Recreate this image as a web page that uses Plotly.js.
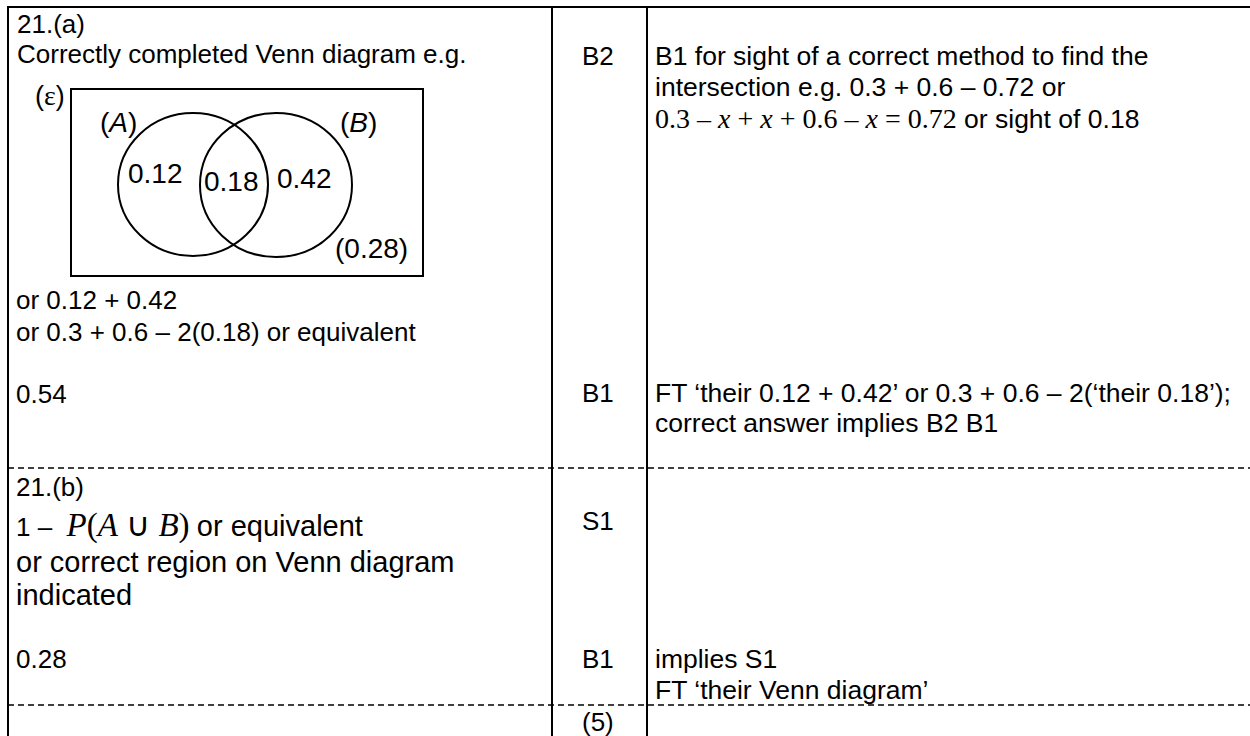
<!DOCTYPE html>
<html>
<head>
<meta charset="utf-8">
<script src="https://cdn.plot.ly/plotly-3.0.1.min.js"></script>
<style>html,body{margin:0;padding:0;background:#fff}</style>
</head>
<body>
<div id="chart" style="width:1250px;height:736px"></div>
<script>
var parts = ['21.(a)', '21.(b)'];
var setNames = ['A', 'B'];
var vennVals = ['0.12', '0.18', '0.42', '0.28']; // A only, A and B, B only, neither
var given = ['0.3', '0.6', '0.72'];               // P(A), P(B), P(A or B)
var answers = ['0.54', '0.28'];
var marks = ['B2', 'B1', 'S1', 'B1'];
var total = '(5)';

var SANS = 'Liberation Sans, Arial, sans-serif';
var SERIF = 'Liberation Serif, Times New Roman, serif';
var serif = function(s, size) {
    return '<span style="font-family:' + SERIF + ';font-size:' + size + 'px">' + s + '</span>';
};

var notes = [];
function txt(x, y, text, size, anchor) {
    notes.push({
        x: x, y: y, xref: 'x', yref: 'y', text: text, showarrow: false,
        xanchor: anchor || 'left', yanchor: 'middle', align: 'left',
        borderpad: 0, borderwidth: 0,
        font: {family: SANS, size: size || 26, color: '#000'}
    });
}

// column 1, part (a)
txt(17, 24, parts[0]);
txt(17, 54, 'Correctly completed Venn diagram e.g.');
txt(35, 95, '(' + serif('ε', 28) + ')', 27);
txt(100, 122, '(<i>' + setNames[0] + '</i>)', 28);
txt(340, 122, '(<i>' + setNames[1] + '</i>)', 28);
txt(128, 173, vennVals[0], 28);
txt(204, 181, vennVals[1], 28);
txt(277, 178, vennVals[2], 28);
txt(335, 248, '(' + vennVals[3] + ')', 28);
txt(16, 300, 'or ' + vennVals[0] + ' + ' + vennVals[2]);
txt(16, 332, 'or ' + given[0] + ' + ' + given[1] + ' – 2(' + vennVals[1] + ') or equivalent');
txt(16, 394, answers[0]);

// marks column
txt(598, 56, marks[0], 26, 'center');
txt(598, 393, marks[1], 26, 'center');
txt(598, 521, marks[2], 26, 'center');
txt(598, 659, marks[3], 26, 'center');
txt(598, 722, total, 26, 'center');

// guidance column
var G = 26.5;
txt(655, 56, 'B1 for sight of a correct method to find the', G);
txt(655, 87, 'intersection e.g. ' + given[0] + ' + ' + given[1] + ' – ' + given[2] + ' or', G);
txt(655, 118, serif(given[0] + ' – <i>x</i> + <i>x</i> + ' + given[1] + ' – <i>x</i> = ' + given[2], 28) + ' or sight of ' + vennVals[1], G);
txt(655, 393, 'FT ‘their ' + vennVals[0] + ' + ' + vennVals[2] + '’ or ' + given[0] + ' + ' + given[1] + ' – 2(‘their ' + vennVals[1] + '’);', G);
txt(655, 423, 'correct answer implies ' + marks[0] + ' ' + marks[1], G);
txt(655, 659, 'implies ' + marks[2], G);
txt(655, 690, 'FT ‘their Venn diagram’', G);

// column 1, part (b)
txt(16, 487, parts[1]);
txt(16, 525, '1 –  ' + serif('<i>P</i>(<i>' + setNames[0] + '</i> ∪ <i>' + setNames[1] + '</i>)', 33) + ' <span style="font-size:29px">or equivalent</span>', 26);
txt(16, 562, 'or correct region on Venn diagram', 29);
txt(16, 595, 'indicated', 29);
txt(16, 659, answers[1]);

function line(x0, y0, x1, y1, dash, w) {
    return {type: 'line', xref: 'x', yref: 'y', x0: x0, y0: y0, x1: x1, y1: y1,
        line: {color: '#000', width: w || 2, dash: dash || 'solid'}};
}

var shapes = [
    line(7, 7, 1250, 7),
    line(8, 7, 8, 736),
    line(552, 7, 552, 736),
    line(647, 7, 647, 736),
    line(8, 468, 1250, 468, '6px,4px', 1.5),
    line(8, 705, 1250, 705, '6px,4px', 1.5),
    {type: 'rect', xref: 'x', yref: 'y', x0: 71, y0: 89, x1: 423, y1: 276, line: {color: '#000', width: 2}},
    {type: 'circle', xref: 'x', yref: 'y', x0: 118, y0: 113, x1: 268, y1: 256, line: {color: '#000', width: 2}},
    {type: 'circle', xref: 'x', yref: 'y', x0: 200, y0: 113, x1: 352, y1: 257, line: {color: '#000', width: 2}}
];

var layout = {
    width: 1250, height: 736,
    margin: {l: 0, r: 0, t: 0, b: 0},
    paper_bgcolor: '#fff', plot_bgcolor: '#fff',
    showlegend: false,
    xaxis: {range: [0, 1250], visible: false, fixedrange: true},
    yaxis: {range: [736, 0], visible: false, fixedrange: true},
    shapes: shapes,
    annotations: notes
};

Plotly.newPlot('chart', [], layout, {staticPlot: true, displayModeBar: false});
</script>
</body>
</html>
